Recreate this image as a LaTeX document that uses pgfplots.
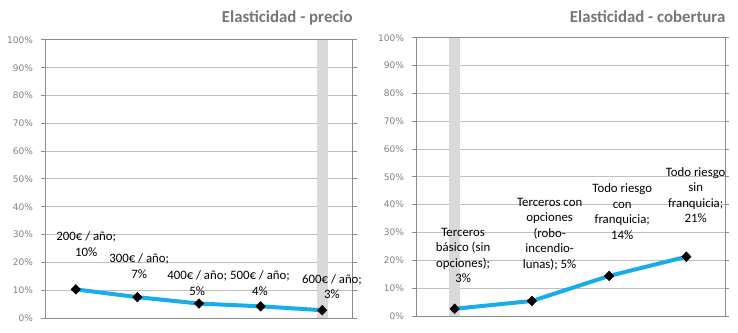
\documentclass[border=0pt]{standalone}
\usepackage{pgfplots}
\pgfplotsset{compat=1.18}
\usepackage{fontspec}
\setmainfont{Carlito}
\newfontfamily\tickfont{DejaVu Sans}
\definecolor{gridc}{RGB}{191,191,191}
\definecolor{axc}{RGB}{140,140,140}
\definecolor{tickc}{RGB}{128,128,128}
\definecolor{linec}{RGB}{24,172,234}
\definecolor{barc}{RGB}{217,217,217}
\definecolor{titc}{RGB}{118,118,118}
\pgfplotsset{myax/.style={
  scale only axis, anchor=south west, ymin=0, ymax=100, ytick={0,10,...,100},
  yticklabel={\pgfmathprintnumber{\tick}\%},
  /pgf/number format/assume math mode=true,
  ymajorgrids, major grid style={gridc, line width=0.75pt},
  xtick=\empty, axis line style={axc, line width=0.75pt},
  ytick style={axc, line width=0.75pt}, tick align=outside, major tick length=3pt,
  tick label style={font=\tickfont\fontsize{6.8}{8}\selectfont, text=tickc},
  yticklabel style={xshift=-2.4pt},
  clip=false},
  ser/.style={linec, line width=3pt, mark=diamond*, mark size=3.6pt,
    mark options={fill=black, draw=black, line width=0.4pt, xscale=1.3}},
  hbar/.style={ybar, bar width=8.25pt, fill=barc, draw=none, forget plot}
}
\tikzset{lab/.style={align=center, font=\fontsize{9.6}{11.6}\selectfont, inner sep=0pt, text=black}}
\begin{document}
\begin{tikzpicture}
\path[use as bounding box] (0,0) rectangle (553.5pt,249pt);
% Left chart
\begin{axis}[myax, at={(33.75pt,10.5pt)}, width=231pt, height=208.5pt,
  xmin=-0.5, xmax=4.5]
\addplot[hbar] coordinates {(4,100)};
\addplot[ser] coordinates {(0,10.3) (1,7.5) (2,5.2) (3,4.2) (4,2.8)};
\node[lab] at (axis cs:0.17,26.6) {200€ / año;\\10\%};
\node[lab] at (axis cs:1.03,18.7) {300€ / año;\\7\%};
\node[lab] at (axis cs:1.97,12.6) {400€ / año;\\5\%};
\node[lab] at (axis cs:2.99,12.6) {500€ / año;\\4\%};
\node[lab] at (axis cs:4.16,11.3) {600€ / año;\\3\%};
\end{axis}
\node[anchor=east, font=\fontsize{12.6}{14}\selectfont\bfseries, text=titc] at (268pt,235.9pt) {Elasticidad - precio};
% Right chart
\begin{axis}[myax, at={(312pt,12pt)}, width=231.75pt, height=208.7pt,
  xmin=-0.5, xmax=3.5]
\addplot[hbar] coordinates {(0,100)};
\addplot[ser] coordinates {(0,2.6) (1,5.4) (2,14.4) (3,21.3)};
\node[lab] at (axis cs:0.11,21.7) {Terceros\\básico (sin\\opciones);\\3\%};
\node[lab] at (axis cs:1.23,29.4) {Terceros con\\opciones\\(robo-\\incendio-\\lunas); 5\%};
\node[lab] at (axis cs:2.17,37.5) {Todo riesgo\\con\\franquicia;\\14\%};
\node[lab] at (axis cs:3.12,43.5) {Todo riesgo\\sin\\franquicia;\\21\%};
\end{axis}
\node[anchor=east, font=\fontsize{12.6}{14}\selectfont\bfseries, text=titc] at (547.5pt,236.6pt) {Elasticidad - cobertura};
\end{tikzpicture}
\end{document}
